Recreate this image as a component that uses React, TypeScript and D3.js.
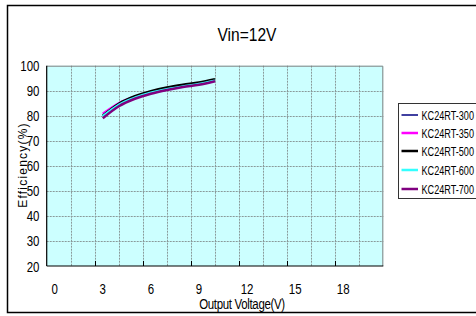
import * as d3 from "d3";
import React from "react";

// output voltage (V) sample points
const voltages = [3, 4, 5, 6, 7, 8, 9, 10];

// efficiency (%) per model
const eff300 = [80.0, 84.5, 87.3, 89.3, 90.8, 92.0, 93.0, 94.3];
const eff350 = [80.8, 85.0, 87.6, 89.4, 90.8, 91.9, 92.9, 94.2];
const eff500 = [80.0, 84.8, 87.8, 89.8, 91.3, 92.4, 93.3, 94.6];
const eff600 = [79.8, 84.4, 87.2, 89.2, 90.6, 91.7, 92.7, 94.0];
const eff700 = [79.0, 83.8, 86.8, 88.8, 90.3, 91.5, 92.4, 93.8];

const seriesNames = ["KC24RT-300", "KC24RT-350", "KC24RT-500", "KC24RT-600", "KC24RT-700"];
const seriesColors = ["#000080", "#ff00ff", "#000000", "#33ffff", "#800080"];
const seriesWidths = [1, 2, 2, 2, 2];

const xTickLabels = [0, 3, 6, 9, 12, 15, 18];
const yTickLabels = [20, 30, 40, 50, 60, 70, 80, 90, 100];

const W = 476;
const H = 316;
const FONT = "'Liberation Sans', Arial, sans-serif";

const plot = { left: 46.7, right: 383.3, top: 65.7, bottom: 266 };

// the original uses a condensed face; squeeze Liberation Sans horizontally
type NTProps = {
  x: number;
  y: number;
  size: number;
  anchor?: "start" | "middle" | "end";
  sx?: number;
  rotate?: number;
  spacing?: number;
  children: React.ReactNode;
};
const NarrowText: React.FC<NTProps> = ({ x, y, size, anchor = "start", sx = 0.82, rotate = 0, spacing = 0, children }) => (
  <text
    transform={`translate(${x},${y}) rotate(${rotate}) scale(${sx},1)`}
    textAnchor={anchor}
    fontSize={size}
    letterSpacing={spacing}
  >
    {children}
  </text>
);

const App: React.FC = () => {
  const x = d3.scaleLinear().domain([-0.5, 20.5]).range([plot.left, plot.right]);
  const y = d3.scaleLinear().domain([20, 100]).range([plot.bottom, plot.top]);

  const allSeries = [eff300, eff350, eff500, eff600, eff700];

  const line = d3
    .line<number>()
    .x((_, i) => x(voltages[i]))
    .y((d) => y(d))
    .curve(d3.curveMonotoneX);

  // minor vertical gridlines every 1.5 V starting from 1
  const vGrid = d3.range(1, 20.5, 1.5);
  // major tick marks every 3 V, offset half a category
  const xMajor = d3.range(2.5, 18, 3);

  const legendRows = [115, 133, 151, 170, 189];

  return (
    <svg
      width={W}
      height={H}
      style={{ position: "absolute", left: 0, top: 0, background: "#fff" }}
      fontFamily={FONT}
    >
      <rect x={0} y={0} width={W} height={H} fill="#fff" />
      <rect x={7.5} y={5.5} width={500} height={307} fill="none" stroke="#000" strokeWidth={1.5} />

      <NarrowText x={247} y={40.5} size={19} anchor="middle">
        Vin=12V
      </NarrowText>

      {/* plot area */}
      <rect
        x={plot.left}
        y={plot.top}
        width={plot.right - plot.left}
        height={plot.bottom - plot.top}
        fill="#ccffff"
      />
      {yTickLabels.slice(1, -1).map((v) => (
        <line
          key={"hy" + v}
          x1={plot.left}
          x2={plot.right}
          y1={Math.round(y(v)) + 0.5}
          y2={Math.round(y(v)) + 0.5}
          stroke="#8a9a9a"
          strokeDasharray="2,1"
        />
      ))}
      {vGrid.map((v) => (
        <line
          key={"vx" + v}
          x1={Math.round(x(v)) + 0.5}
          x2={Math.round(x(v)) + 0.5}
          y1={plot.top}
          y2={plot.bottom}
          stroke="#8a9a9a"
          strokeDasharray="2,1"
        />
      ))}
      {/* top and right border */}
      <path
        d={`M${plot.left},${plot.top + 0.5}H${plot.right - 0.5}V${plot.bottom}`}
        fill="none"
        stroke="#808080"
      />
      {/* axes */}
      <line x1={plot.left} x2={plot.left} y1={plot.top} y2={plot.bottom} stroke="#000" strokeWidth={1.2} />
      <line x1={plot.left} x2={plot.right} y1={plot.bottom} y2={plot.bottom} stroke="#000" strokeWidth={1.2} />
      {xMajor.map((v) => (
        <line
          key={"tk" + v}
          x1={Math.round(x(v)) + 0.5}
          x2={Math.round(x(v)) + 0.5}
          y1={plot.bottom}
          y2={plot.bottom - 5}
          stroke="#000"
        />
      ))}

      {/* series */}
      {allSeries.map((s, i) => (
        <path
          key={seriesNames[i]}
          d={line(s) || ""}
          fill="none"
          stroke={seriesColors[i]}
          strokeWidth={seriesWidths[i] + 0.5}
        />
      ))}

      {/* y tick labels */}
      {yTickLabels.map((v) => (
        <NarrowText key={"yl" + v} x={39.5} y={y(v) + 5.5} size={14} anchor="end">
          {v}
        </NarrowText>
      ))}
      {/* x tick labels */}
      {xTickLabels.map((v) => (
        <NarrowText key={"xl" + v} x={x(v)} y={293.5} size={14} anchor="middle">
          {v}
        </NarrowText>
      ))}

      <NarrowText x={242} y={309} size={14} anchor="middle" spacing={-0.4}>
        Output Voltage(V)
      </NarrowText>
      <NarrowText x={26.5} y={165} size={12} anchor="middle" rotate={-90} sx={1} spacing={1.2}>
        Efficiency(%)
      </NarrowText>

      {/* legend */}
      <rect x={398.5} y={103.5} width={100} height={95} fill="#fff" stroke="#333" />
      {seriesNames.map((n, i) => (
        <g key={"lg" + n}>
          <line
            x1={401.5}
            x2={418}
            y1={legendRows[i]}
            y2={legendRows[i]}
            stroke={seriesColors[i]}
            strokeWidth={seriesWidths[i] + 0.5}
          />
          <NarrowText x={421.5} y={legendRows[i] + 4.5} size={12} sx={0.76}>
            {n}
          </NarrowText>
        </g>
      ))}
    </svg>
  );
};

export default App;
